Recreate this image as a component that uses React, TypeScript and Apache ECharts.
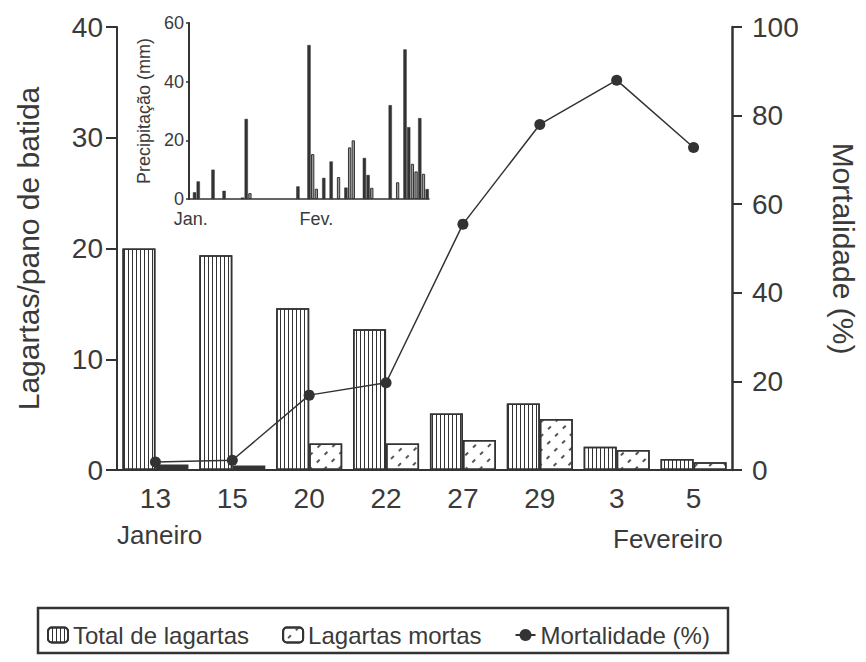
import React, { useEffect, useRef } from "react";
import * as echarts from "echarts";

// ---- Main chart data ----
const categories = ["13", "15", "20", "22", "27", "29", "3", "5"];
const totalLagartas = [20.0, 19.4, 14.6, 12.7, 5.1, 6.0, 2.1, 1.0];
const lagartasMortas = [0.5, 0.4, 2.4, 2.4, 2.7, 4.6, 1.8, 0.7];
const mortalidade = [1.8, 2.2, 16.9, 19.7, 55.5, 78, 88, 72.8];
const leftTicks = { min: 0, max: 40, interval: 10 };
const rightTicks = { min: 0, max: 100, interval: 20 };
const monthLabels = ["Janeiro", "Fevereiro"];

// ---- Inset (precipitation) data: [day slot, mm] ----
const precipSlotCount = 65;
const precipMonthTicks: [number, string][] = [
  [0, "Jan."],
  [34, "Fev."],
];
const precipDark: [number, number][] = [
  [1, 2.3], [2, 6], [6, 10], [9, 2.8], [14, 0.5], [15, 27.3], [29, 4.3],
  [32, 52.5], [36, 7.2], [38, 12.8], [42, 3.9], [47, 14], [48, 8.2],
  [54, 32], [58, 51], [59, 24.5], [62, 27.6], [64, 3.4],
];
const precipLight: [number, number][] = [
  [16, 2], [33, 15.3], [34, 3.5], [40, 7.5], [43, 17.6], [44, 20],
  [49, 3.8], [56, 5.7], [60, 12], [61, 9.4], [63, 8.6],
];
const precipTicks = { min: 0, max: 60, interval: 20 };

const INK = "#333333";
const TXT = "#3a3a3a";
const FONT = "Liberation Sans, Arial, sans-serif";

export default function App() {
  const ref = useRef<HTMLDivElement>(null);

  useEffect(() => {
    if (!ref.current) return;
    const chart = echarts.init(ref.current, null, { renderer: "svg" });

    const slotLabels = Array.from({ length: precipSlotCount }, (_, i) => {
      const f = precipMonthTicks.find((t) => t[0] === i);
      return f ? f[1] : "";
    });

    const totalDecal = {
      symbol: "rect",
      symbolSize: 1,
      dashArrayX: [1, 2.3],
      dashArrayY: [4, 0],
      rotation: 0,
      color: INK,
    };
    const mortasDecal = {
      symbol: "rect",
      symbolSize: 1,
      dashArrayX: [1.2, 8],
      dashArrayY: [3.5, 7],
      rotation: Math.PI / 4,
      color: "#555",
    };

    const option: any = {
      animation: false,
      backgroundColor: "#ffffff",
      textStyle: { fontFamily: FONT, color: TXT },
      legend: {
        data: ["Total de lagartas", "Lagartas mortas", "Mortalidade (%)"],
        left: 42,
        top: 618,
        itemWidth: 20,
        itemHeight: 15,
        itemGap: 33,
        textStyle: { fontSize: 24, color: TXT, fontFamily: FONT },
      },
      graphic: [
        {
          type: "rect",
          shape: { x: 38, y: 608, width: 690, height: 45 },
          style: { fill: "none", stroke: INK, lineWidth: 2.5 },
          silent: true,
        },
        {
          type: "text",
          left: 117,
          top: 522,
          style: { text: monthLabels[0], fontSize: 26, fill: TXT, fontFamily: FONT },
        },
        {
          type: "text",
          left: 613,
          top: 526,
          style: { text: monthLabels[1], fontSize: 26, fill: TXT, fontFamily: FONT },
        },
      ],
      grid: [
        { left: 117, right: 133, top: 27, bottom: 192 },
        { left: 189, right: 437, top: 23, bottom: 463 },
      ],
      xAxis: [
        {
          type: "category",
          gridIndex: 0,
          data: categories,
          axisLine: { lineStyle: { color: INK, width: 2 } },
          axisTick: { alignWithLabel: true, length: 10, lineStyle: { color: INK, width: 2 } },
          axisLabel: { fontSize: 28, color: TXT, margin: 14 },
          splitLine: { show: false },
        },
        {
          type: "category",
          gridIndex: 1,
          data: slotLabels,
          axisLine: { lineStyle: { color: INK, width: 1.5 } },
          axisTick: { show: false },
          axisLabel: { fontSize: 18, lineHeight: 16, color: TXT, interval: 0, margin: 12 },
          splitLine: { show: false },
        },
      ],
      yAxis: [
        {
          type: "value",
          gridIndex: 0,
          ...leftTicks,
          position: "left",
          name: "Lagartas/pano de batida",
          nameLocation: "middle",
          nameGap: 74,
          nameTextStyle: { fontSize: 30, color: TXT, fontFamily: FONT },
          axisLine: { show: true, lineStyle: { color: INK, width: 2 } },
          axisTick: { show: true, length: 11, lineStyle: { color: INK, width: 2 } },
          axisLabel: { fontSize: 28, color: TXT, margin: 14 },
          splitLine: { show: false },
        },
        {
          type: "value",
          gridIndex: 0,
          ...rightTicks,
          position: "right",
          name: "Mortalidade (%)",
          nameLocation: "middle",
          nameRotate: -90,
          nameGap: 96,
          nameTextStyle: { fontSize: 30, color: TXT, fontFamily: FONT },
          axisLine: { show: true, lineStyle: { color: INK, width: 2.5 } },
          axisTick: { show: true, length: 10, lineStyle: { color: INK, width: 2 } },
          axisLabel: { fontSize: 28, color: TXT, margin: 20 },
          splitLine: { show: false },
        },
        {
          type: "value",
          gridIndex: 1,
          ...precipTicks,
          name: "Precipitação (mm)",
          nameLocation: "middle",
          nameGap: 36,
          nameTextStyle: { fontSize: 18, color: TXT, fontFamily: FONT },
          axisLine: { show: true, lineStyle: { color: INK, width: 2 } },
          axisTick: { show: true, length: 3, lineStyle: { color: INK, width: 1.5 } },
          axisLabel: { fontSize: 18, lineHeight: 16, color: TXT, margin: 5 },
          splitLine: { show: false },
        },
      ],
      series: [
        {
          name: "Total de lagartas",
          type: "bar",
          xAxisIndex: 0,
          yAxisIndex: 0,
          barWidth: 33,
          barGap: "0%",
          data: totalLagartas,
          itemStyle: { color: "#ffffff", borderColor: INK, borderWidth: 1.5, decal: totalDecal },
        },
        {
          name: "Lagartas mortas",
          type: "bar",
          xAxisIndex: 0,
          yAxisIndex: 0,
          barWidth: 33,
          barGap: "0%",
          data: lagartasMortas.map((v, i) =>
            i < 2
              ? { value: v, itemStyle: { color: INK, decal: "none" } }
              : v
          ),
          itemStyle: { color: "#ffffff", borderColor: INK, borderWidth: 1.5, decal: mortasDecal },
        },
        {
          name: "Mortalidade (%)",
          type: "line",
          xAxisIndex: 0,
          yAxisIndex: 1,
          data: mortalidade,
          symbol: "circle",
          symbolSize: 11,
          itemStyle: { color: INK },
          lineStyle: { color: INK, width: 1.5 },
          z: 5,
        },
        {
          name: "precipDark",
          type: "bar",
          xAxisIndex: 1,
          yAxisIndex: 2,
          barWidth: "90%",
          barGap: "-100%",
          data: precipDark,
          itemStyle: { color: INK, borderColor: INK, borderWidth: 0.5 },
        },
        {
          name: "precipLight",
          type: "bar",
          xAxisIndex: 1,
          yAxisIndex: 2,
          barWidth: "90%",
          barGap: "-100%",
          data: precipLight,
          itemStyle: { color: "#9a9a9a", borderColor: INK, borderWidth: 1 },
        },
      ],
    };

    chart.setOption(option);
    return () => chart.dispose();
  }, []);

  return (
    <div
      ref={ref}
      style={{ position: "absolute", left: 0, top: 0, width: 866, height: 662 }}
    />
  );
}
